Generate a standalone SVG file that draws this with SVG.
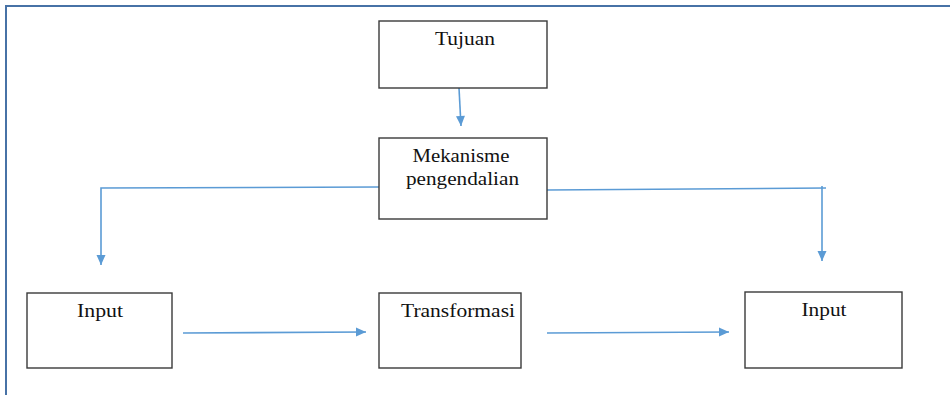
<svg xmlns="http://www.w3.org/2000/svg" width="950" height="395" viewBox="0 0 950 395">
  <style>
    .box { fill: #ffffff; stroke: #3a3a3a; stroke-width: 1.4; }
    .lbl { font-family: "Liberation Serif", "Times New Roman", serif; font-size: 18px; fill: #111111; text-anchor: middle; }
    .conn { fill: none; stroke: #5b9bd5; stroke-width: 1.6; }
    .frame { fill: none; stroke: #4772a6; stroke-width: 2; }
  </style>
  <defs>
    <marker id="arr" markerUnits="userSpaceOnUse" markerWidth="12" markerHeight="12" viewBox="0 0 12 12" refX="11" refY="6" orient="auto">
      <path d="M1,1.5 L11,6 L1,10.5 Z" fill="#5b9bd5"/>
    </marker>
  </defs>
  <rect width="950" height="395" fill="#ffffff"/>
  <path class="frame" d="M6,395 L6,6 L950,6"/>

  <g id="connectors">
    <path class="conn" d="M459,88 L461,126" marker-end="url(#arr)"/>
    <path class="conn" d="M379,187 L101,188 L101,265" marker-end="url(#arr)"/>
    <path class="conn" d="M547,190 L826,188"/>
    <path class="conn" d="M822,186 L822,261" marker-end="url(#arr)"/>
    <path class="conn" d="M183,333 L366,332" marker-end="url(#arr)"/>
    <path class="conn" d="M547,333 L729,332" marker-end="url(#arr)"/>
  </g>

  <g id="tujuan">
    <rect class="box" x="379" y="21" width="168" height="67"/>
    <text class="lbl" x="465" y="45" textLength="60" lengthAdjust="spacingAndGlyphs">Tujuan</text>
  </g>
  <g id="mekanisme">
    <rect class="box" x="379" y="138" width="168" height="81"/>
    <text class="lbl" x="461" y="162" textLength="97" lengthAdjust="spacingAndGlyphs">Mekanisme</text>
    <text class="lbl" x="462.5" y="185" textLength="113" lengthAdjust="spacingAndGlyphs">pengendalian</text>
  </g>
  <g id="input-left">
    <rect class="box" x="27" y="293" width="145" height="75"/>
    <text class="lbl" x="100" y="317" textLength="46" lengthAdjust="spacingAndGlyphs">Input</text>
  </g>
  <g id="transformasi">
    <rect class="box" x="379" y="293" width="142" height="75"/>
    <text class="lbl" x="458" y="317" textLength="114" lengthAdjust="spacingAndGlyphs">Transformasi</text>
  </g>
  <g id="input-right">
    <rect class="box" x="745" y="292" width="157" height="76"/>
    <text class="lbl" x="824" y="316" textLength="45" lengthAdjust="spacingAndGlyphs">Input</text>
  </g>
</svg>
